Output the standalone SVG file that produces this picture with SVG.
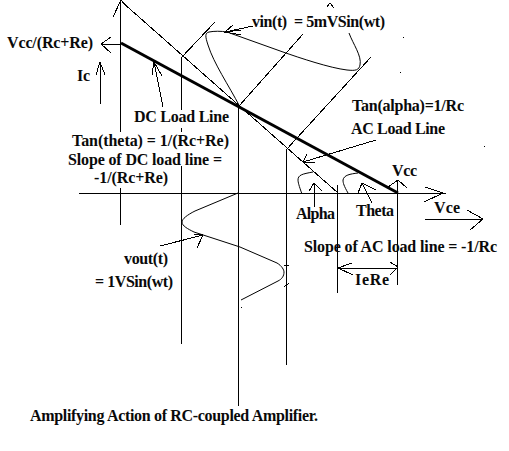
<svg xmlns="http://www.w3.org/2000/svg" width="509" height="451" viewBox="0 0 509 451">
<style>
text{font-family:"Liberation Serif","Times New Roman",serif;font-weight:bold;font-size:16px;fill:#0a0a0a;white-space:pre}
.l{fill:none;stroke:#000;stroke-width:1;shape-rendering:crispEdges}
.c{fill:none;stroke:#000;stroke-width:1}
</style>
<rect width="509" height="451" fill="#fff"/>
<g id="connectors">
<path class="l" d="M120.5 0V225M181.5 58V344M238.5 106V406M286.5 150V365M337.5 185V293M397.5 181V285M79 193.5H446"/>
<path class="l" d="M122 2L338 193M181 58L215 22M239 106L303 34M286 150L371 57"/>
<path d="M121 43L398 193" fill="none" stroke="#000" stroke-width="3"/>
<path class="l" d="M113 17L121 0L134 13M425 187L443 193L424 202M388 187L398 180L407 188"/>
<path class="l" d="M121 44H101M111 37L101 44L111 53"/>
<path class="l" d="M100 104V62M96 75L100 62L105 75"/>
<path class="l" d="M163 107L154 62M152 75L154 62L162 76"/>
<path class="l" d="M376 140L303 162M307 154L303 162L315 163"/>
<path class="l" d="M253 26L225 32M233 25L225 32L241 30M225 32L241 35"/>
<path class="l" d="M314.500 207V183M309 191L314 183L322 191"/>
<path class="l" d="M372 203L362 183M358 193L362 183L376 190"/>
<path class="l" d="M425 219.500H483M467 210L483 219L470 230"/>
<path class="l" d="M338 268.500H398M352 263L338 268L353 275M390 262L398 267L390 275"/>
<path class="l" d="M160 246L203 235M194 234L203 235L197 248"/>
<path class="l" d="M327 7L330 3L334 8M284 265L289 266M284 287L289 283"/>
</g>
<g id="curves">
<path class="c" d="M240 107C228 84 214 64 208 45C205 36 205 33 209 32C214 31 221 31 227 32L283 52C300 58 330 68 347 70C356 71 359 70 360 65C362 56 353 44 349 33"/>
<path class="c" d="M238 193L195 211C187 215 182 219 182 222C182 226 188 229 194 232L240 247L277 263C282 266 284 270 284 272C284 276 282 279 278 281L241 300"/>
<path class="c" d="M302 194C299 186 298 182 298 180C298 175 302 174 313 172"/>
<path class="c" d="M348 193C344 186 343 183 343 180C344 175 350 174 358 173"/>
<path class="l" d="M403 37h1M400 72h1M241 307h1M484 147l1 -1"/>
</g>
<g id="label-vcc-re"><text x="7" y="48" textLength="86">Vcc/(Rc+Re)</text></g>
<g id="label-ic"><text x="77" y="81" textLength="13">Ic</text></g>
<g id="label-dc"><rect x="132" y="110" width="99" height="18" fill="#fff"/><text x="134" y="122" textLength="95">DC Load Line</text></g>
<g id="label-tan-theta"><rect x="70" y="132" width="161" height="19" fill="#fff"/><text x="72" y="146" textLength="157">Tan(theta) = 1/(Rc+Re)</text></g>
<g id="label-slope-dc"><rect x="66" y="151" width="158" height="15" fill="#fff"/><rect x="92" y="166" width="78" height="22" fill="#fff"/><text x="68" y="165" textLength="154">Slope of DC load line =</text><text x="94" y="183" textLength="74">-1/(Rc+Re)</text></g>
<g id="label-vin"><text x="252" y="27" textLength="133">vin(t)  = 5mVSin(wt)</text></g>
<g id="label-tan-alpha"><text x="352" y="111" textLength="112">Tan(alpha)=1/Rc</text></g>
<g id="label-ac"><text x="351" y="134" textLength="94">AC Load Line</text></g>
<g id="label-vcc"><text x="392" y="176" textLength="25">Vcc</text></g>
<g id="label-alpha"><text x="296" y="219" textLength="39">Alpha</text></g>
<g id="label-theta"><text x="356" y="216" textLength="38">Theta</text></g>
<g id="label-vce"><text x="434" y="213" textLength="26">Vce</text></g>
<g id="label-slope-ac"><text x="304" y="252" textLength="193">Slope of AC load line = -1/Rc</text></g>
<g id="label-iere"><text x="355" y="285" textLength="34">IeRe</text></g>
<g id="label-vout"><text x="124" y="264" textLength="44">vout(t)</text><text x="95" y="287" textLength="78">= 1VSin(wt)</text></g>
<g id="label-title"><text x="30" y="421" textLength="288">Amplifying Action of RC-coupled Amplifier.</text></g>
</svg>
